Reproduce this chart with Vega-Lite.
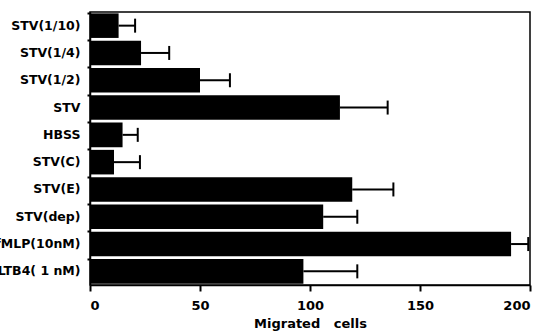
{
  "$schema": "https://vega.github.io/schema/vega-lite/v6.json",
  "width": 440,
  "height": 273,
  "autosize": "none",
  "padding": {"left": 90, "top": 12, "right": 18, "bottom": 48},
  "background": "white",
  "config": {
    "view": {"stroke": "black", "strokeWidth": 1.5},
    "axis": {"grid": false, "domainColor": "black", "domainWidth": 1.5, "tickColor": "black", "labelColor": "black", "titleColor": "black", "labelFont": "DejaVu Sans", "titleFont": "DejaVu Sans", "labelFontWeight": "bold", "titleFontWeight": "bold"}
  },
  "data": {
    "values": [
      {"group": "STV(1/10)", "mean": 13, "upper": 20.5},
      {"group": "STV(1/4)", "mean": 23.2, "upper": 36},
      {"group": "STV(1/2)", "mean": 50, "upper": 63.6},
      {"group": "STV", "mean": 113.6, "upper": 135.3},
      {"group": "HBSS", "mean": 14.8, "upper": 21.7},
      {"group": "STV(C)", "mean": 10.9, "upper": 22.7},
      {"group": "STV(E)", "mean": 119.2, "upper": 137.9},
      {"group": "STV(dep)", "mean": 106, "upper": 121.5},
      {"group": "fMLP(10nM)", "mean": 191.4, "upper": 199.2},
      {"group": "LTB4( 1 nM)", "mean": 97, "upper": 121.5}
    ]
  },
  "encoding": {
    "y": {
      "field": "group", "type": "nominal", "sort": null,
      "scale": {"paddingInner": 0.1, "paddingOuter": 0.05},
      "axis": {"title": null, "bandPosition": 0, "tickSize": 3, "tickWidth": 2, "labelFontSize": 12.5, "labelPadding": 7, "domain": true}
    }
  },
  "layer": [
    {
      "mark": {"type": "bar", "color": "black"},
      "encoding": {
        "x": {
          "field": "mean", "type": "quantitative",
          "scale": {"domain": [0, 200], "nice": false},
          "axis": {"title": "Migrated\u00a0\u00a0\u00a0cells", "values": [0, 50, 100, 150, 200], "tickSize": 6, "tickWidth": 2, "labelFontSize": 13, "labelPadding": 8, "titleFontSize": 13, "titlePadding": 5}
        }
      }
    },
    {
      "mark": {"type": "rule", "strokeWidth": 2, "color": "black"},
      "encoding": {"x": {"field": "mean", "type": "quantitative"}, "x2": {"field": "upper"}}
    },
    {
      "mark": {"type": "tick", "thickness": 2, "size": 14, "color": "black", "opacity": 1},
      "encoding": {"x": {"field": "upper", "type": "quantitative"}}
    }
  ]
}
